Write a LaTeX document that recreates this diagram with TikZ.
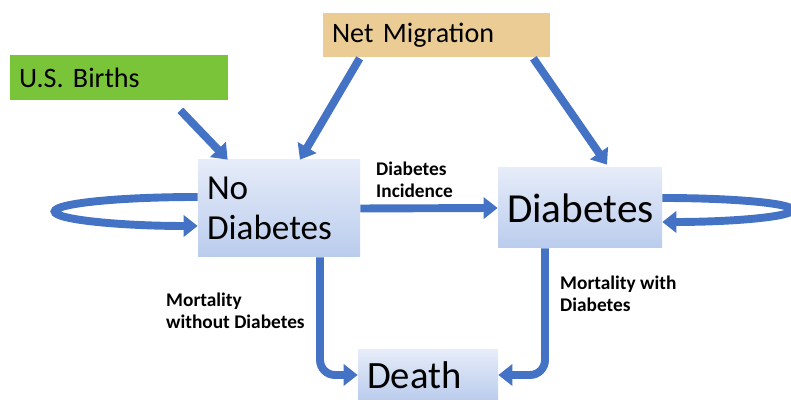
\documentclass[tikz,border=0pt]{standalone}
\usepackage{fontspec}
\setmainfont{Carlito}
\usetikzlibrary{arrows.meta, positioning, calc}

\definecolor{arblue}{RGB}{68,114,196}
\definecolor{bgreen}{RGB}{122,196,58}
\definecolor{mtan}{RGB}{234,204,148}
\definecolor{btop}{RGB}{230,236,249}
\definecolor{bbot}{RGB}{186,204,237}

\begin{document}
\begin{tikzpicture}[
    n/.style={rectangle, inner sep=0.18cm, font=\fontsize{20}{23}\selectfont, top color=btop, bottom color=bbot, align=left},
    src/.style={rectangle, inner sep=0.18cm, font=\fontsize{16}{19}\selectfont, align=left},
    a/.style={-{Triangle[length=8pt, width=12pt]}, line width=4.5pt, arblue},
    lab/.style={font=\fontsize{11}{12.5}\selectfont\bfseries, align=left},
]
\useasboundingbox (0,0) rectangle (15.82,8.24);
\node[src, fill=bgreen, text width=4.0cm, minimum height=0.9cm] (births) at (2.38,6.69) {U.S. Births};
\node[src, fill=mtan, text width=4.18cm, minimum height=0.88cm] (migr) at (8.73,7.54) {Net Migration};
\node[n, text width=2.88cm, minimum height=1.94cm] (nodiab) at (5.58,4.07) {No\\Diabetes};
\node[n, text width=2.92cm, minimum height=1.6cm, align=center, font=\fontsize{23.5}{26}\selectfont] (diab) at (11.6,4.08) {\raisebox{-0.18cm}{Diabetes}};
\node[n, text width=2.44cm, minimum height=1.0cm, font=\fontsize{22}{24}\selectfont] (death) at (8.56,0.74) {Death};
% inflows
\draw[a] ($(births.south east)+(-0.96,-0.2)$) -- ($(nodiab.north west)+(0.6,0)$);
\draw[a] ($(migr.south west)+(0.74,-0.02)$) -- ($(nodiab.north)+(0.42,0)$);
\draw[a] ($(migr.south east)+(-0.34,-0.02)$) -- ($(diab.north)+(0.54,0.06)$);
\draw[a] (nodiab.east) -- (diab.west);
% staying in the same state
\draw[a] ($(nodiab.west)+(0,0.23)$) arc[start angle=90, end angle=270, x radius=2.86, y radius=0.29];
\draw[a] ($(diab.east)+(0,0.2)$) arc[start angle=90, end angle=-90, x radius=2.6, y radius=0.24];
% deaths
\draw[a, rounded corners=0.3cm] ($(nodiab.south)+(0.82,0)$) |- (death.west);
\draw[a, rounded corners=0.3cm] ($(diab.south)+(-0.7,0)$) |- (death.east);
\node[lab, anchor=west] (incid) at (7.4,4.64) {Diabetes\\Incidence};
\node[lab, anchor=west] (mortno) at (3.2,2.02) {Mortality\\without Diabetes};
\node[lab, anchor=west] (mortyes) at (11.08,2.36) {Mortality with\\Diabetes};
\end{tikzpicture}
\end{document}
